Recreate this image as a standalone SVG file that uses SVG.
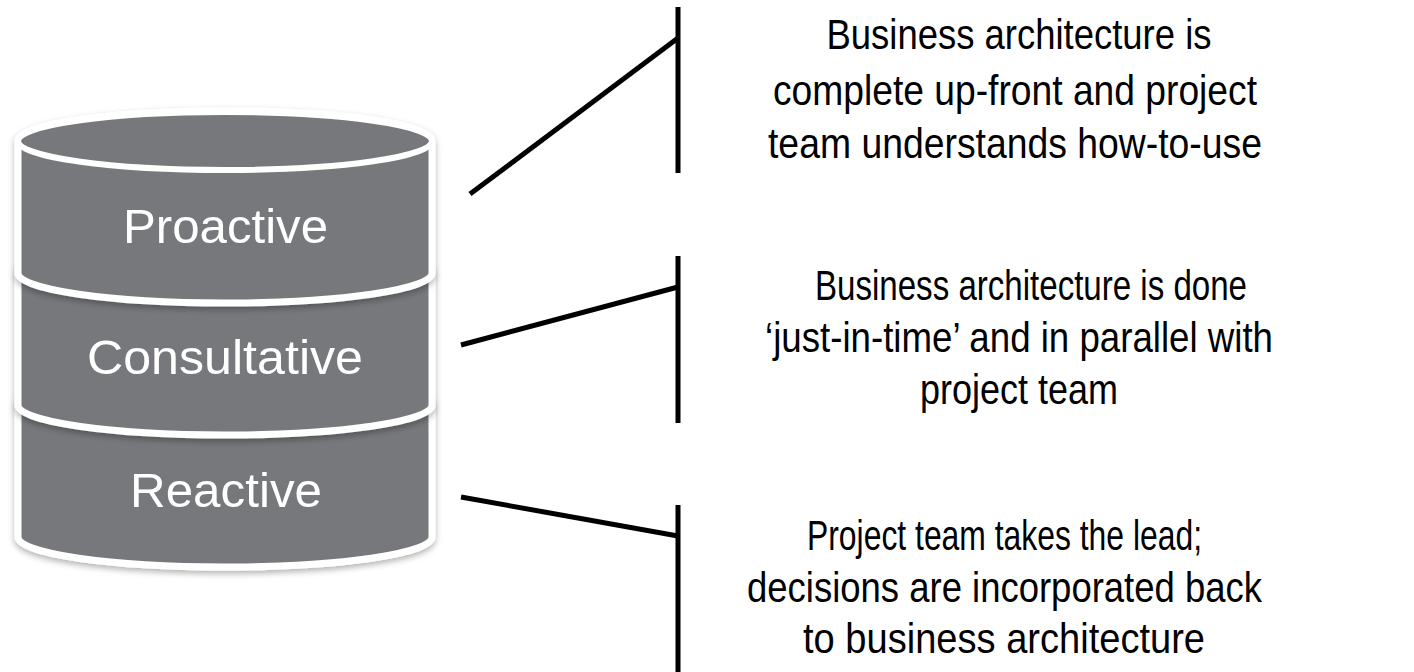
<svg xmlns="http://www.w3.org/2000/svg" width="1414" height="672" viewBox="0 0 1414 672">
  <style>
    .seg { fill: #77787c; stroke: #ffffff; stroke-width: 7; filter: url(#shade); }
    .cap { fill: #77787c; stroke: #ffffff; stroke-width: 6; }
    .lbl { font-family: "Liberation Sans", Arial, sans-serif; font-size: 49px; fill: #ffffff; text-anchor: middle; }
    .desc { font-family: "Liberation Sans Narrow", "Liberation Sans", Arial, sans-serif; font-size: 43px; fill: #000000; text-anchor: middle; }
    .conn { stroke: #000000; stroke-width: 5; fill: none; }
  </style>
  <defs>
    <filter id="shade" x="-10%" y="-10%" width="120%" height="130%">
      <feDropShadow dx="0" dy="3" stdDeviation="3" flood-color="#000000" flood-opacity="0.3"/>
    </filter>
  </defs>
  <rect width="1414" height="672" fill="#ffffff"/>

  <!-- stacked cylinder: bottom tier first so upper tiers overlap it -->
  <g id="tier-reactive">
    <path class="seg" d="M18,405 L18,537 A207,30 0 0 0 432,537 L432,405 A207,30 0 0 0 18,405 Z"/>
    <text class="lbl" x="226" y="507" textLength="192" lengthAdjust="spacingAndGlyphs">Reactive</text>
  </g>
  <g id="tier-consultative">
    <path class="seg" d="M18,273 L18,405 A207,30 0 0 0 432,405 L432,273 A207,30 0 0 0 18,273 Z"/>
    <text class="lbl" x="225" y="374" textLength="276" lengthAdjust="spacingAndGlyphs">Consultative</text>
  </g>
  <g id="tier-proactive">
    <path class="seg" d="M18,141 L18,273 A207,30 0 0 0 432,273 L432,141 A207,30 0 0 0 18,141 Z"/>
    <ellipse class="cap" cx="225" cy="141" rx="207" ry="29"/>
    <text class="lbl" x="225.5" y="243" textLength="205" lengthAdjust="spacingAndGlyphs">Proactive</text>
  </g>

  <!-- leader lines from each tier to its description bracket -->
  <g id="connectors">
    <line class="conn" x1="470" y1="194" x2="678" y2="38"/>
    <line class="conn" x1="678" y1="7" x2="678" y2="173"/>
    <line class="conn" x1="461" y1="345" x2="678" y2="287"/>
    <line class="conn" x1="678" y1="256" x2="678" y2="423"/>
    <line class="conn" x1="461" y1="497" x2="678" y2="536"/>
    <line class="conn" x1="678" y1="505" x2="678" y2="672"/>
  </g>

  <g id="desc-proactive">
    <text class="desc" x="1019" y="49" textLength="385" lengthAdjust="spacingAndGlyphs">Business architecture is</text>
    <text class="desc" x="1015" y="105" textLength="484" lengthAdjust="spacingAndGlyphs">complete up-front and project</text>
    <text class="desc" x="1015" y="158" textLength="494" lengthAdjust="spacingAndGlyphs">team understands how-to-use</text>
  </g>
  <g id="desc-consultative">
    <text class="desc" x="1031" y="300" textLength="432" lengthAdjust="spacingAndGlyphs">Business architecture is done</text>
    <text class="desc" x="1019" y="352" textLength="508" lengthAdjust="spacingAndGlyphs">‘just-in-time’ and in parallel with</text>
    <text class="desc" x="1019" y="404" textLength="198" lengthAdjust="spacingAndGlyphs">project team</text>
  </g>
  <g id="desc-reactive">
    <text class="desc" x="1004.5" y="550" textLength="395" lengthAdjust="spacingAndGlyphs">Project team takes the lead;</text>
    <text class="desc" x="1004.5" y="602" textLength="515" lengthAdjust="spacingAndGlyphs">decisions are incorporated back</text>
    <text class="desc" x="1004" y="653" textLength="402" lengthAdjust="spacingAndGlyphs">to business architecture</text>
  </g>
</svg>
